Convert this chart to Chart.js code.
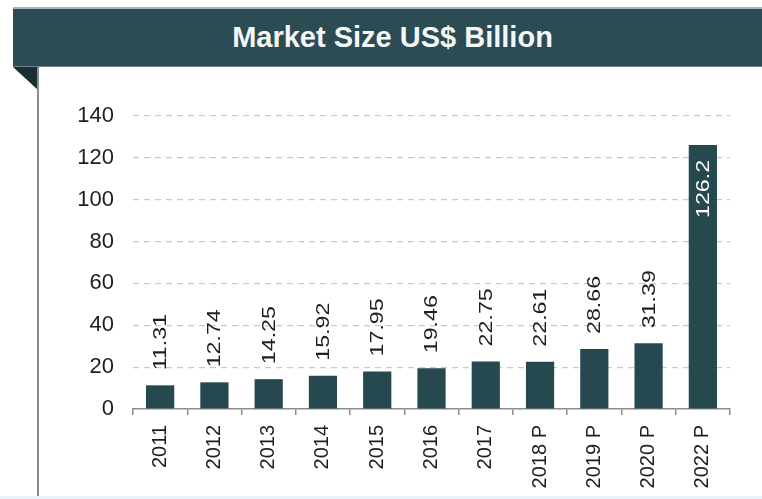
<!DOCTYPE html>
<html>
<head>
<meta charset="utf-8">
<script src="https://cdn.jsdelivr.net/npm/chart.js@4.4.1/dist/chart.umd.min.js"></script>
<style>
  html, body { margin: 0; padding: 0; background: #ffffff; }
  #wrap { position: relative; width: 762px; height: 499px; overflow: hidden; font-family: "Liberation Sans", Arial, sans-serif; }
  #banner {
    position: absolute; left: 13px; top: 7px; width: 749px; height: 57px;
    background: #2d4b53; border-top: 2px solid #a9b6b9; border-bottom: 1px solid #6e8489;
    color: #f4f7f7; font-weight: bold; font-size: 29px; line-height: 57px; text-align: center;
  }
  #banner span { position: relative; left: 5px; }
  #fold {
    position: absolute; left: 13px; top: 67px; width: 25px; height: 23px;
    background: #1b2e33; clip-path: polygon(0 0, 100% 0, 100% 100%);
  }
  #edge { position: absolute; left: 37px; top: 67px; width: 2px; height: 432px; background: #8c8c8c; }
  #foot { position: absolute; left: 0; top: 496px; width: 762px; height: 3px; background: #eaf4f8; }
  #chart { position: absolute; left: 0; top: 0; }
</style>
</head>
<body>
<div id="wrap">
  <div id="banner"><span>Market Size US$ Billion</span></div>
  <div id="fold"></div>
  <div id="edge"></div>
  <div id="foot"></div>
  <canvas id="chart" width="762" height="499"></canvas>
</div>
<script>
// Market size by year, US$ billion (P = projected)
const years = ["2011", "2012", "2013", "2014", "2015", "2016", "2017", "2018 P", "2019 P", "2020 P", "2022 P"];
const marketSize = [11.31, 12.74, 14.25, 15.92, 17.95, 19.46, 22.75, 22.61, 28.66, 31.39, 126.2];
const yTicks = [0, 20, 40, 60, 80, 100, 120, 140];

const barColor = "#264950";
const fontFamily = "'Liberation Sans', Arial, sans-serif";

// Rotated value labels: above the bar, or inside it when there is no room.
// The text is stretched a little along its reading direction.
const valueLabels = {
  id: "valueLabels",
  afterDatasetsDraw(chart) {
    const ctx = chart.ctx;
    const meta = chart.getDatasetMeta(0);
    const area = chart.chartArea;
    const stretch = 1.29;
    ctx.save();
    ctx.font = "18px " + fontFamily;
    ctx.textBaseline = "middle";
    meta.data.forEach((bar, i) => {
      const text = String(marketSize[i]);
      const w = ctx.measureText(text).width * stretch;
      const gap = 15;
      ctx.save();
      ctx.translate(bar.x + 1, bar.y);
      ctx.rotate(-Math.PI / 2);
      if (bar.y - gap - w < area.top - 10) {
        ctx.translate(-gap, 0);
        ctx.scale(stretch, 1);
        ctx.fillStyle = "#ffffff";
        ctx.textAlign = "right";
        ctx.fillText(text, 0, 0);
      } else {
        ctx.translate(gap, 0);
        ctx.scale(stretch, 1);
        ctx.fillStyle = "#1e1e1e";
        ctx.textAlign = "left";
        ctx.fillText(text, 0, 0);
      }
      ctx.restore();
    });
    ctx.restore();
  }
};

new Chart(document.getElementById("chart"), {
  type: "bar",
  data: {
    labels: years,
    datasets: [{
      data: marketSize,
      backgroundColor: barColor,
      borderWidth: 0,
      categoryPercentage: 1,
      barPercentage: 0.52
    }]
  },
  options: {
    responsive: false,
    animation: false,
    events: [],
    layout: { padding: { left: 0, right: 32, top: 116, bottom: 0 } },
    plugins: { legend: { display: false }, tooltip: { enabled: false }, title: { display: false } },
    scales: {
      x: {
        offset: true,
        afterFit(scale) { scale.height = 90; },
        grid: {
          offset: true,
          drawOnChartArea: false,
          drawTicks: true,
          tickLength: 6,
          color: "#8c8c8c",
          lineWidth: 1.5
        },
        border: { display: true, color: "#8c8c8c", width: 1.5 },
        ticks: {
          minRotation: 90,
          maxRotation: 90,
          padding: 10,
          color: "#1e1e1e",
          font: { family: fontFamily, size: 20 }
        }
      },
      y: {
        min: 0,
        max: 140,
        afterFit(scale) { scale.width = 133; },
        afterBuildTicks(scale) { scale.ticks = yTicks.map(v => ({ value: v })); },
        grid: {
          drawTicks: false,
          color: ctx => (ctx.tick && ctx.tick.value === 0 ? "rgba(0,0,0,0)" : "#c9c9c9"),
          lineWidth: 1.2
        },
        border: { display: false, dash: [6, 5] },
        ticks: {
          padding: 19,
          color: "#1e1e1e",
          font: { family: fontFamily, size: 22 }
        }
      }
    }
  },
  plugins: [valueLabels]
});
</script>
</body>
</html>
